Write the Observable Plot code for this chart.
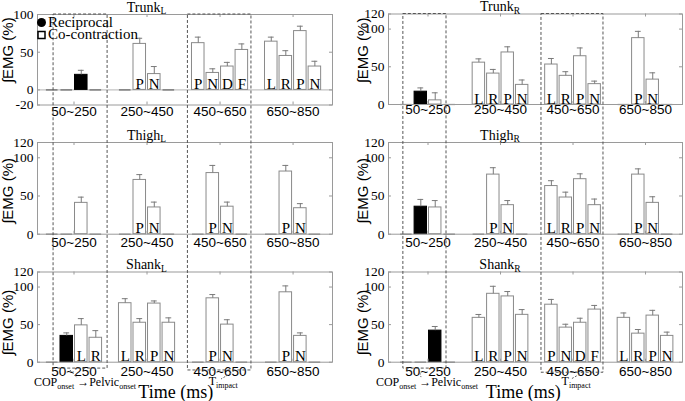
<!DOCTYPE html>
<html><head><meta charset="utf-8">
<script src="https://cdn.jsdelivr.net/npm/d3@7"></script>
<script src="https://cdn.jsdelivr.net/npm/@observablehq/plot@0.6"></script>
<style>
html,body{margin:0;padding:0;background:#fff;}
#fig{position:relative;width:685px;height:401px;overflow:hidden;background:#fff;}
#fig > svg{position:absolute;overflow:visible;}
</style></head><body><div id="fig"></div>
<script>
// ---------- data ----------
const groups = ["50~250", "250~450", "450~650", "650~850"];
const yTicksTrunkL = [-20, 0, 50, 100];
const yTicks = [0, 50, 100, 120];
// rows: [group (1-4), slot (0-3), mean %, SD, kind ("rec" reciprocal | "co" co-contraction), letter]
const trunkL = [
  [1, 2, 20, 6, "rec", ""],
  [2, 1, 61, 7.5, "co", "P"], [2, 2, 21, 10, "co", "N"],
  [3, 0, 62, 8, "co", "P"], [3, 1, 22.5, 5.5, "co", "N"], [3, 2, 31, 5.5, "co", "D"], [3, 3, 53, 8, "co", "F"],
  [4, 0, 64, 6, "co", "L"], [4, 1, 45, 7, "co", "R"], [4, 2, 78, 6.5, "co", "P"], [4, 3, 31, 7, "co", "N"]
];
const trunkR = [
  [1, 1, 17, 5, "rec", ""], [1, 2, 5.5, 10, "co", ""],
  [2, 0, 55.5, 5, "co", "L"], [2, 1, 41, 5.5, "co", "R"], [2, 2, 69, 7.5, "co", "P"], [2, 3, 26, 6.5, "co", "N"],
  [3, 0, 53, 8, "co", "L"], [3, 1, 38, 5.5, "co", "R"], [3, 2, 64, 11, "co", "P"], [3, 3, 27, 4, "co", "N"],
  [4, 1, 88, 9, "co", "P"], [4, 2, 33, 9, "co", "N"]
];
const thighL = [
  [1, 2, 41, 7.5, "co", ""],
  [2, 1, 71, 7, "co", "P"], [2, 2, 35, 7, "co", "N"],
  [3, 1, 80, 10, "co", "P"], [3, 2, 36, 6, "co", "N"],
  [4, 1, 82, 8, "co", "P"], [4, 2, 34, 6, "co", "N"]
];
const thighR = [
  [1, 1, 36, 9.5, "rec", ""], [1, 2, 35, 9, "co", ""],
  [2, 1, 78, 9, "co", "P"], [2, 2, 38, 6, "co", "N"],
  [3, 0, 63, 7, "co", "L"], [3, 1, 48, 7, "co", "R"], [3, 2, 72, 7, "co", "P"], [3, 3, 38, 8, "co", "N"],
  [4, 1, 78, 7.5, "co", "P"], [4, 2, 41, 8, "co", "N"]
];
const shankL = [
  [1, 1, 35, 4, "rec", ""], [1, 2, 49, 9, "co", "L"], [1, 3, 32.5, 9.5, "co", "R"],
  [2, 0, 78.5, 6, "co", "L"], [2, 1, 52.5, 5.5, "co", "R"], [2, 2, 78, 3.5, "co", "P"], [2, 3, 52.5, 6.5, "co", "N"],
  [3, 1, 85, 5, "co", "P"], [3, 2, 50, 6.5, "co", "N"],
  [4, 1, 93, 8.5, "co", "P"], [4, 2, 35, 4, "co", "N"]
];
const shankR = [
  [1, 2, 42, 5.5, "rec", ""],
  [2, 0, 59, 4.5, "co", "L"], [2, 1, 91, 10, "co", "R"], [2, 2, 87.5, 6.5, "co", "P"], [2, 3, 63, 7, "co", "N"],
  [3, 0, 76.5, 7, "co", "P"], [3, 1, 46, 4.5, "co", "N"], [3, 2, 52.5, 6, "co", "D"], [3, 3, 70, 5.5, "co", "F"],
  [4, 0, 59, 6.5, "co", "L"], [4, 1, 38, 5.5, "co", "R"], [4, 2, 62, 7, "co", "P"], [4, 3, 35, 5, "co", "N"]
];
// dashed highlight boxes (x in group units; bottom in shank-panel % units)
const boxes = [
  {col: 0, x1: 0.72, x2: 1.46, bottom: -8.5},
  {col: 0, x1: 2.56, x2: 3.43, bottom: -11},
  {col: 1, x1: 0.66, x2: 1.255, bottom: -8.5},
  {col: 1, x1: 2.565, x2: 3.42, bottom: -14}
];
const connectors = [
  {col: 0, x1: 0.95, y1: -11, x2: 1.05, y2: -21.5},
  {col: 0, x1: 3.16, y1: -15, x2: 3.02, y2: -23},
  {col: 1, x1: 0.88, y1: -10, x2: 0.91, y2: -20.5},
  {col: 1, x1: 3.10, y1: -16.5, x2: 2.98, y2: -23}
];
const copLabelX = [1.157, 0.993];
const timeLabelX = [2.40, 2.32];

// ---------- layout ----------
const W = 685, H = 401;
const SERIF = "Liberation Serif, Times New Roman, serif";
const SANS = "Liberation Sans, Arial, sans-serif";
const SW = 0.199;
const cols = [
  {left: 0, width: 340, mL: 37, mR: 8, xdom: [0.5, 4.54], side: "L", ylabOff: -25},
  {left: 340, width: 345, mL: 48, mR: 3, xdom: [0.455, 4.51], side: "R", ylabOff: -21}
];
const panels = [
  {name: "Trunk", data: trunkL, col: 0, top: 0, height: 125, mT: 14, mB: 20.5, ydom: [-20, 100], yt: yTicksTrunkL, zero: true, xPad: 1.5, ylab: 52},
  {name: "Trunk", data: trunkR, col: 1, top: 0, height: 125, mT: 13.5, mB: 21, ydom: [0, 120], yt: yTicks, xPad: 0, ylab: 71},
  {name: "Thigh", data: thighL, col: 0, top: 125, height: 125, mT: 17, mB: 16.3, ydom: [0, 120], yt: yTicks, xPad: 3.3, ylab: 56},
  {name: "Thigh", data: thighR, col: 1, top: 125, height: 125, mT: 17, mB: 16.3, ydom: [0, 120], yt: yTicks, xPad: 3.3, ylab: 56},
  {name: "Shank", data: shankL, col: 0, top: 250, height: 151, mT: 21.5, mB: 39.3, ydom: [0, 120], yt: yTicks, xPad: 4, ylab: 52},
  {name: "Shank", data: shankR, col: 1, top: 250, height: 151, mT: 21.5, mB: 39.3, ydom: [0, 120], yt: yTicks, xPad: 4, ylab: 52}
];

const fig = d3.select("#fig");

function makePanel(p) {
  const c = cols[p.col];
  const rows = p.data.map(([g, s, v, e, k, l]) => ({g, s, v, e, k, l,
    x1: g + (s - 2) * SW, x2: g + (s - 1) * SW, xc: g + (s - 1.5) * SW}));
  const used = new Set(rows.map(d => d.g + "-" + d.s));
  const empty = [];
  for (let g = 1; g <= 4; g++) for (let s = 0; s < 4; s++)
    if (!used.has(g + "-" + s)) empty.push({x1: g + (s - 2) * SW + 0.02, x2: g + (s - 1) * SW - 0.02});
  const [y0, y1] = p.ydom;
  const [xa, xb] = c.xdom;
  const ph = p.height - p.mT - p.mB, pw = c.width - c.mL - c.mR;
  const tkx = 3 * (xb - xa) / pw, tky = 3 * (y1 - y0) / ph;
  const xt = [1, 2, 3, 4];
  const plot = Plot.plot({
    width: c.width, height: p.height,
    marginLeft: c.mL, marginRight: c.mR, marginTop: p.mT, marginBottom: p.mB,
    x: {type: "linear", domain: c.xdom},
    y: {domain: p.ydom},
    style: {background: "transparent", overflow: "visible", fontFamily: SERIF, fontSize: "13.5px", color: "black"},
    marks: [
      p.zero ? Plot.ruleY([0], {stroke: "#b4b4b4"}) : null,
      Plot.ruleY(empty, {x1: "x1", x2: "x2", y: 0, stroke: "#666", strokeWidth: 1.2}),
      Plot.rectY(rows.filter(d => d.k === "co"), {x1: "x1", x2: "x2", y1: 0, y2: "v", fill: "white", stroke: "#8a8a8a", insetLeft: 1, insetRight: 1}),
      Plot.rectY(rows.filter(d => d.k === "rec"), {x1: "x1", x2: "x2", y1: 0, y2: "v", fill: "black", stroke: "black", insetLeft: 1, insetRight: 1}),
      Plot.ruleX(rows, {x: "xc", y1: "v", y2: d => d.v + d.e, stroke: "#7a7a7a"}),
      Plot.ruleY(rows, {y: d => d.v + d.e, x1: d => d.xc - 0.04, x2: d => d.xc + 0.04, stroke: "#7a7a7a"}),
      Plot.text(rows.filter(d => d.l), {x: "xc", y: 0, text: "l", lineAnchor: "bottom", dy: -1, fontFamily: SERIF, fontSize: 15, fill: "black"}),
      Plot.frame({stroke: "#9a9a9a"}),
      Plot.ruleY(p.yt, {y: d => d, x1: xa, x2: xa + tkx, stroke: "#9a9a9a"}),
      Plot.ruleY(p.yt, {y: d => d, x1: xb - tkx, x2: xb, stroke: "#9a9a9a"}),
      Plot.ruleX(xt, {x: d => d, y1: y0, y2: y0 + tky, stroke: "#9a9a9a"}),
      Plot.ruleX(xt, {x: d => d, y1: y1 - tky, y2: y1, stroke: "#9a9a9a"}),
      Plot.axisY({ticks: p.yt, tickFormat: d => String(d), tickSize: 0, tickPadding: 4, fontFamily: SERIF, fontSize: 13.5, fill: "black", label: null}),
      Plot.axisX({ticks: xt, tickFormat: d => groups[d - 1], tickSize: 0, tickPadding: p.xPad, fontFamily: SANS, fontSize: 13.5, fill: "black", label: null})
    ]
  });
  plot.style.left = c.left + "px";
  plot.style.top = p.top + "px";
  fig.node().appendChild(plot);
  p.sx = plot.scale("x");
  p.sy = plot.scale("y");
  return plot;
}
panels.forEach(makePanel);

// ---------- overlay annotations ----------
const ov = fig.append("svg").attr("width", W).attr("height", H)
  .style("left", "0px").style("top", "0px");

const X = (p, v) => cols[p.col].left + p.sx.apply(v);
const Y = (p, v) => p.top + p.sy.apply(v);

// titles and y labels
panels.forEach(p => {
  const c = cols[p.col];
  const t = ov.append("text").attr("x", X(p, 2)).attr("y", p.top + p.mT - 2.5)
    .attr("text-anchor", "middle").attr("font-family", SERIF).attr("font-size", 14).attr("fill", "black");
  t.append("tspan").text(p.name);
  t.append("tspan").attr("dy", 2.5).attr("font-size", 9.5).text(c.side);
  const lx = c.left + c.mL + c.ylabOff + 1, ly = Y(p, p.ylab);
  ov.append("text").attr("transform", `translate(${lx},${ly}) rotate(-90)`)
    .attr("text-anchor", "middle").attr("font-family", SANS).attr("font-size", 15).attr("fill", "black")
    .text("∫EMG (%)");
});

// dashed boxes
const topL = panels[0], topR = panels[1], botL = panels[4], botR = panels[5];
boxes.forEach(b => {
  const pt = b.col === 0 ? topL : topR, pb = b.col === 0 ? botL : botR;
  const x1 = X(pt, b.x1), x2 = X(pt, b.x2);
  const yt = pt.top + pt.mT, yb = Y(pb, b.bottom);
  ov.append("rect").attr("x", x1).attr("y", yt).attr("width", x2 - x1).attr("height", yb - yt)
    .attr("fill", "none").attr("stroke", "#555").attr("stroke-width", 1).attr("stroke-dasharray", "3,2");
});
connectors.forEach(k => {
  const pb = k.col === 0 ? botL : botR;
  ov.append("line").attr("x1", X(pb, k.x1)).attr("y1", Y(pb, k.y1)).attr("x2", X(pb, k.x2)).attr("y2", Y(pb, k.y2))
    .attr("stroke", "#666").attr("stroke-dasharray", "2,1.5");
});

// bottom annotations
[botL, botR].forEach((pb, i) => {
  const cop = ov.append("text").attr("x", X(pb, copLabelX[i])).attr("y", Y(pb, -32.4))
    .attr("text-anchor", "middle").attr("font-family", SERIF).attr("font-size", 12).attr("fill", "black");
  cop.append("tspan").text("COP");
  cop.append("tspan").attr("dy", 3).attr("font-size", 8).text("onset");
  cop.append("tspan").attr("dy", -3).text(" →Pelvic");
  cop.append("tspan").attr("dy", 3).attr("font-size", 8).text("onset");
  const ti = ov.append("text").attr("x", X(pb, 3.05)).attr("y", Y(pb, -31))
    .attr("text-anchor", "middle").attr("font-family", SERIF).attr("font-size", 12).attr("fill", "black");
  ti.append("tspan").text("T");
  ti.append("tspan").attr("dy", 3).attr("font-size", 8).text("impact");
  ov.append("text").attr("x", X(pb, timeLabelX[i])).attr("y", Y(pb, -48.4))
    .attr("text-anchor", "middle").attr("font-family", SERIF).attr("font-size", 18).attr("fill", "black")
    .text("Time (ms)");
});

// legend (inside Trunk_L)
const lgx = cols[0].mL, lgy = topL.mT;
ov.append("circle").attr("cx", lgx + 4.5).attr("cy", lgy + 8.5).attr("r", 4.5).attr("fill", "black");
ov.append("text").attr("x", lgx + 11).attr("y", lgy + 13).attr("font-family", SERIF).attr("font-size", 15).attr("fill", "black").text("Reciprocal");
ov.append("rect").attr("x", lgx + 1).attr("y", lgy + 17.5).attr("width", 7).attr("height", 7)
  .attr("fill", "white").attr("stroke", "black").attr("stroke-width", 1.5);
ov.append("text").attr("x", lgx + 11).attr("y", lgy + 25).attr("font-family", SERIF).attr("font-size", 15).attr("fill", "black").text("Co-contraction");
</script>
</body></html>
